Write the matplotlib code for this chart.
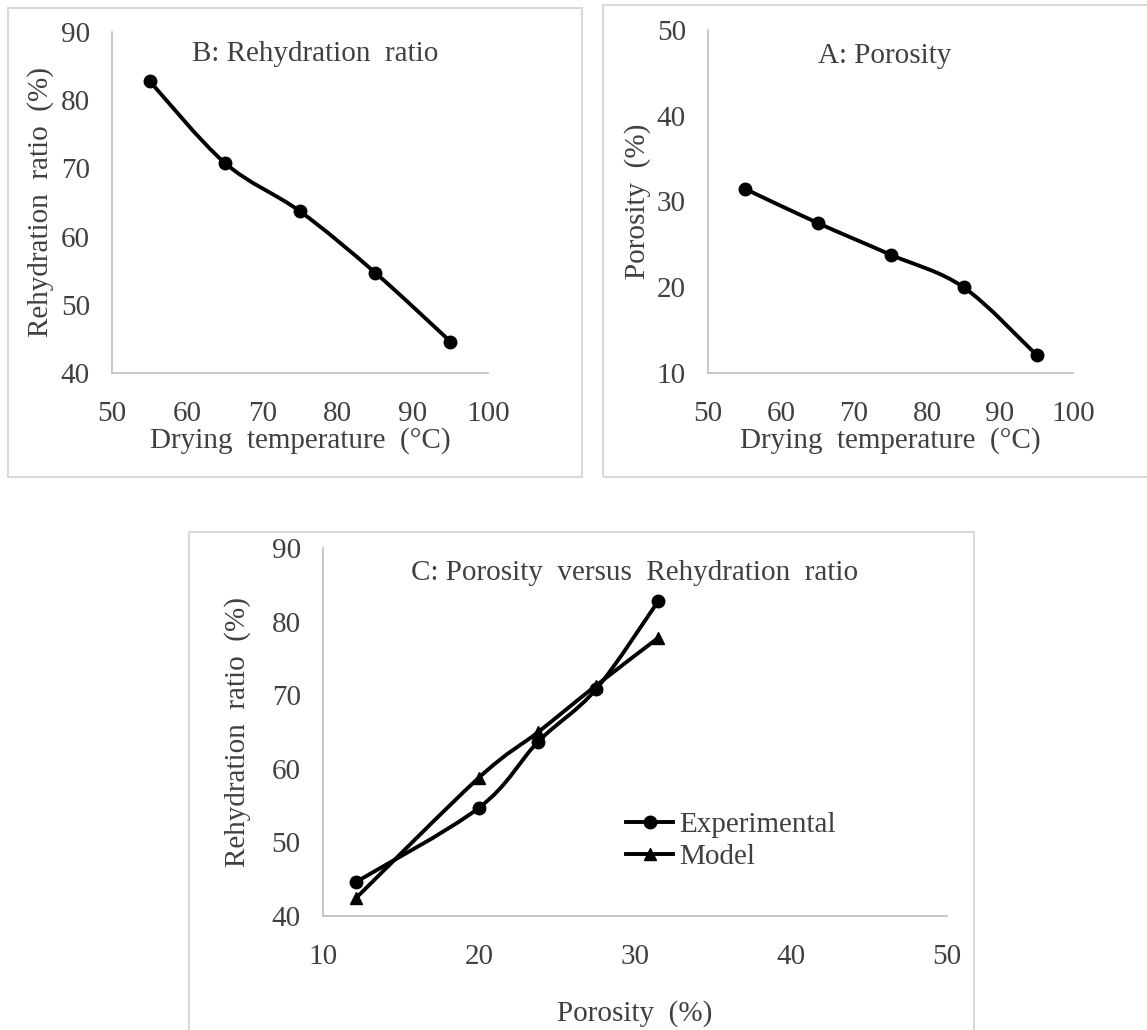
import numpy as np
import matplotlib
matplotlib.use('Agg')
import matplotlib.pyplot as plt
from matplotlib.path import Path
from matplotlib.patches import PathPatch, Rectangle
from matplotlib.lines import Line2D

plt.rcParams['font.family'] = ['Liberation Serif', 'DejaVu Serif']

# data
temperature = [55, 65, 75, 85, 95]
rehydration = [82.8, 70.8, 63.7, 54.7, 44.6]
porosity = [31.5, 27.5, 23.8, 20.0, 12.1]
model_rehydration = [77.8, 71.3, 65.0, 58.8, 42.4]

TXT = '#404040'
AXC = '#bfbfbf'
FRAME = '#d9d9d9'
FS = 21


def smooth_path(x, y):
    # Excel-style smoothed line: Catmull-Rom segments as cubic Beziers
    p = np.column_stack([x, y]).astype(float)
    n = len(p)
    verts = [p[0]]
    codes = [Path.MOVETO]
    for i in range(n - 1):
        p0 = p[i - 1] if i > 0 else p[i]
        p1 = p[i]
        p2 = p[i + 1]
        p3 = p[i + 2] if i + 2 < n else p[i + 1]
        c1 = p1 + (p2 - p0) / 6.0
        c2 = p2 - (p3 - p1) / 6.0
        verts += [c1, c2, p2]
        codes += [Path.CURVE4] * 3
    return Path(verts, codes)


def draw_series(ax, x, y, marker):
    ax.add_patch(PathPatch(smooth_path(x, y), fill=False, lw=2.8,
                           edgecolor='black', zorder=3))
    ax.plot(x, y, ls='none', marker=marker, ms=9, color='black', zorder=4)


def style(ax, xlim, ylim, xticks, yticks):
    ax.set_xlim(*xlim)
    ax.set_ylim(*ylim)
    ax.set_xticks(xticks)
    ax.set_yticks(yticks)
    for s in ['top', 'right']:
        ax.spines[s].set_visible(False)
    for s in ['left', 'bottom']:
        ax.spines[s].set_color(AXC)
        ax.spines[s].set_linewidth(1.2)
    ax.tick_params(axis='both', length=0, labelsize=FS, colors=TXT)
    ax.tick_params(axis='y', pad=16)
    ax.tick_params(axis='x', pad=20)
    ax.patch.set_alpha(0)


def title(ax, text, x, y):
    ax.text(x, y, text, transform=ax.transAxes, ha='center', va='center',
            fontsize=FS, color=TXT)


fig = plt.figure(figsize=(11.47, 10.30), dpi=100)

# chart frames
for (x0, y0, w, h) in [(0.007, 0.537, 0.5, 0.455),
                       (0.5257, 0.537, 0.48, 0.4583),
                       (0.1648, -0.01, 0.6844, 0.4935)]:
    fig.patches.append(Rectangle((x0, y0), w, h, transform=fig.transFigure,
                                 fill=False, edgecolor=FRAME, lw=1.5))

# B: rehydration ratio
axB = fig.add_axes([0.0977, 0.6379, 0.3278, 0.331])
style(axB, (50, 100), (40, 90), range(50, 101, 10), range(40, 91, 10))
draw_series(axB, temperature, rehydration, 'o')
title(axB, 'B: Rehydration  ratio', 0.54, 0.935)
axB.set_xlabel('Drying  temperature  (°C)', fontsize=FS, color=TXT, labelpad=0)
axB.set_ylabel('Rehydration  ratio  (%)', fontsize=FS, color=TXT, labelpad=5)

# A: porosity
axA = fig.add_axes([0.6173, 0.6379, 0.3182, 0.333])
style(axA, (50, 100), (10, 50), range(50, 101, 10), range(10, 51, 10))
draw_series(axA, temperature, porosity, 'o')
title(axA, 'A: Porosity', 0.485, 0.925)
axA.set_xlabel('Drying  temperature  (°C)', fontsize=FS, color=TXT, labelpad=0)
axA.set_ylabel('Porosity  (%)', fontsize=FS, color=TXT, labelpad=4)

# C: porosity versus rehydration ratio
axC = fig.add_axes([0.2816, 0.1107, 0.544, 0.3573])
style(axC, (10, 50), (40, 90), range(10, 51, 10), range(40, 91, 10))
draw_series(axC, porosity, rehydration, 'o')
draw_series(axC, porosity, model_rehydration, '^')
title(axC, 'C: Porosity  versus  Rehydration  ratio', 0.5, 0.932)
axC.set_xlabel('Porosity  (%)', fontsize=FS, color=TXT, labelpad=22)
axC.set_ylabel('Rehydration  ratio  (%)', fontsize=FS, color=TXT, labelpad=15)
handles = [Line2D([], [], color='black', lw=2.8, marker='o', ms=9),
           Line2D([], [], color='black', lw=2.8, marker='^', ms=9)]
leg = axC.legend(handles, ['Experimental', 'Model'], loc='upper left',
                 bbox_to_anchor=(0.486, 0.284), frameon=False, fontsize=FS,
                 handlelength=1.6, handletextpad=0.2, labelspacing=0.2,
                 borderaxespad=0, borderpad=0)
for t in leg.get_texts():
    t.set_color(TXT)

fig.savefig('out.png', dpi=100)
